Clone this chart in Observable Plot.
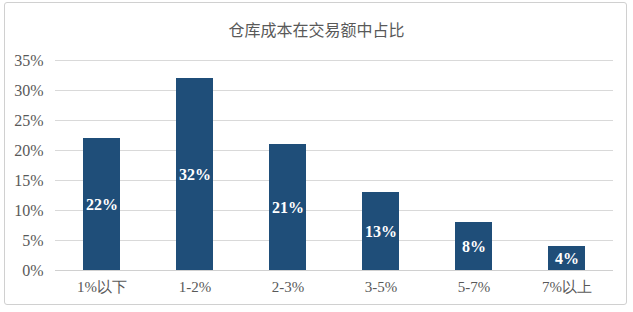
<!DOCTYPE html>
<html>
<head>
<meta charset="utf-8">
<script src="https://cdn.jsdelivr.net/npm/d3@7"></script>
<script src="https://cdn.jsdelivr.net/npm/@observablehq/plot@0.6"></script>
<style>
  html, body { margin: 0; padding: 0; background: #fff; }
  #wrap { position: relative; width: 633px; height: 312px; overflow: hidden; }
  #frame { position: absolute; left: 4px; top: 2px; width: 621px; height: 301px;
           border: 1.5px solid #d0d0d0; border-radius: 3px; box-sizing: content-box; }
  #title { position: absolute; left: 0; top: 17px; width: 633px; text-align: center;
           font-family: "Noto Sans CJK SC", sans-serif; font-size: 16px; color: #595959; }
  #chart { position: absolute; left: 0; top: 0; }
  #chart g[aria-label="x-axis tick label"] { font-size: 15px; }
  #chart g[aria-label="y-axis tick label"] { font-size: 16px; }
</style>
</head>
<body>
<div id="wrap">
  <div id="frame"></div>
  <div id="title">仓库成本在交易额中占比</div>
  <div id="chart"></div>
</div>
<script>
// Share of warehouse cost in transaction value, by bracket
const categories = ["1%以下", "1-2%", "2-3%", "3-5%", "5-7%", "7%以上"];
const shares = [22, 32, 21, 13, 8, 4];
const yTicks = [0, 5, 10, 15, 20, 25, 30, 35];

const rows = categories.map((c, i) => ({ category: c, share: shares[i] }));

const chart = Plot.plot({
  width: 633,
  height: 312,
  marginTop: 60,
  marginBottom: 42,
  marginLeft: 55,
  marginRight: 20,
  style: { fontFamily: "'Liberation Serif', 'Times New Roman', serif", fontSize: "15px", color: "#595959", background: "transparent" },
  x: { domain: categories, paddingInner: 0.6, paddingOuter: 0.3, label: null, tickSize: 0, tickPadding: 11 },
  y: { domain: [0, 35], ticks: yTicks, tickFormat: d => d + "%", label: null, tickSize: 0, tickPadding: 12 },
  marks: [
    Plot.gridY(yTicks, { stroke: "#d9d9d9", strokeOpacity: 1 }),
    Plot.ruleY([0], { stroke: "#d0d0d0" }),
    Plot.barY(rows, { x: "category", y: "share", fill: "#1F4E79" }),
    Plot.text(rows, {
      x: "category",
      y: d => d.share / 2,
      text: d => d.share + "%",
      fill: "white",
      fontWeight: "bold",
      fontSize: 16
    })
  ]
});
document.getElementById("chart").appendChild(chart);
</script>
</body>
</html>
